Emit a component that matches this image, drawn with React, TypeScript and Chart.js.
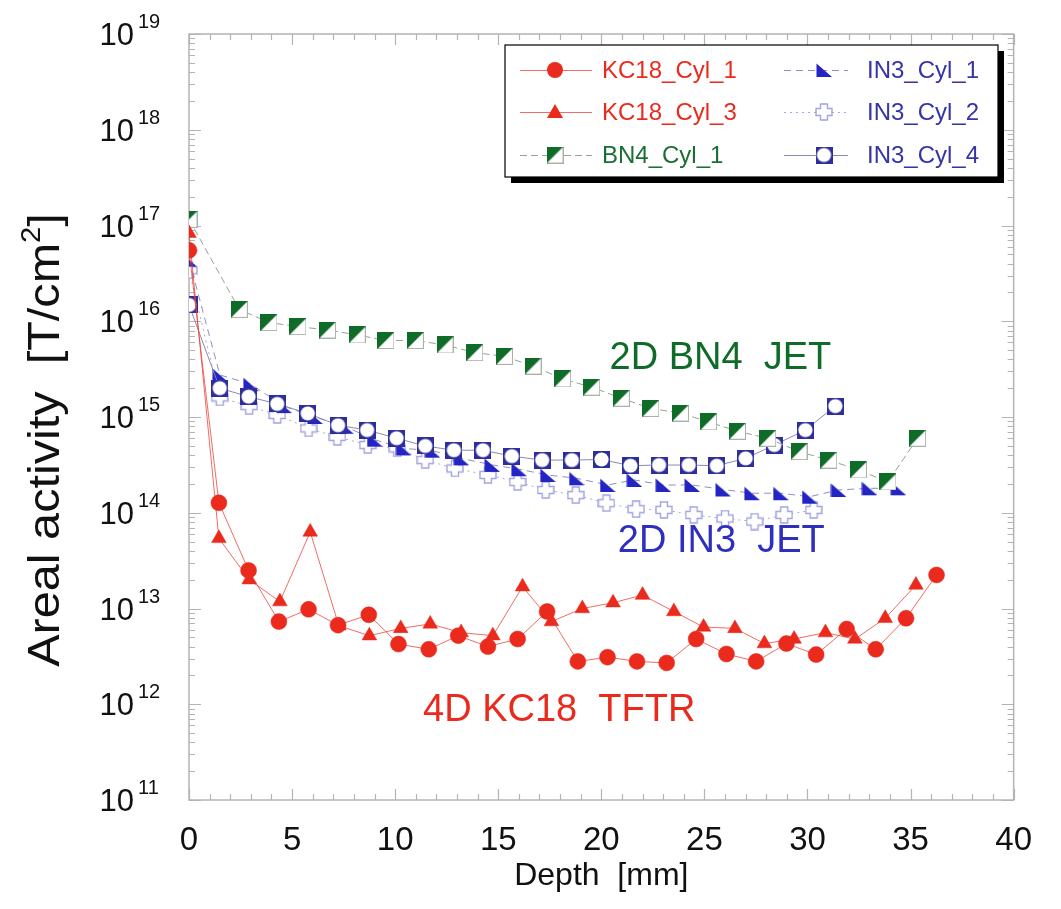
import React, { useEffect, useRef } from 'react';
import { Chart, registerables } from 'chart.js';

Chart.register(...registerables);

// ---------- data (depth in mm, areal activity in T/cm^2) ----------
const kc18Cyl1Depth = [0, 1.45, 2.89, 4.36, 5.8, 7.23, 8.72, 10.16, 11.63, 13.06, 14.5, 15.94, 17.37, 18.86, 20.3, 21.73, 23.17, 24.6, 26.07, 27.51, 28.98, 30.42, 31.9, 33.31, 34.78, 36.26];
const kc18Cyl1Activity = [5.5e16, 1.27e14, 2.5e13, 7.3e12, 9.8e12, 6.7e12, 8.6e12, 4.25e12, 3.75e12, 5.2e12, 4.0e12, 4.8e12, 9.3e12, 2.8e12, 3.1e12, 2.8e12, 2.7e12, 4.8e12, 3.35e12, 2.8e12, 4.3e12, 3.3e12, 6.1e12, 3.75e12, 7.9e12, 2.24e13];

const kc18Cyl3Depth = [0, 1.45, 2.92, 4.41, 5.88, 7.27, 8.75, 10.27, 11.7, 13.2, 14.74, 16.18, 17.58, 19.08, 20.57, 22.0, 23.52, 24.96, 26.48, 27.91, 29.35, 30.87, 32.3, 33.77, 35.26];
const kc18Cyl3Activity = [8.3e16, 5.4e13, 2.0e13, 1.18e13, 6.3e13, 6.6e12, 5.2e12, 6.2e12, 6.9e12, 5.6e12, 5.2e12, 1.69e13, 7.3e12, 1.0e13, 1.15e13, 1.38e13, 9.3e12, 6.4e12, 6.2e12, 4.3e12, 4.8e12, 5.6e12, 4.8e12, 7.9e12, 1.76e13];

const bn4Cyl1Depth = [0, 2.44, 3.88, 5.28, 6.72, 8.16, 9.55, 10.98, 12.42, 13.86, 15.3, 16.69, 18.12, 19.53, 20.97, 22.4, 23.84, 25.2, 26.6, 28.07, 29.59, 31.03, 32.47, 33.9, 35.34];
const bn4Cyl1Activity = [1.16e17, 1.33e16, 9.7e15, 8.8e15, 8.1e15, 7.2e15, 6.3e15, 6.3e15, 5.65e15, 4.7e15, 4.3e15, 3.4e15, 2.5e15, 2.05e15, 1.57e15, 1.23e15, 1.1e15, 8.9e14, 7.1e14, 6.0e14, 4.35e14, 3.55e14, 2.8e14, 2.1e14, 6.0e14];

const in3Cyl1Depth = [0, 1.5, 3.0, 4.6, 6.1, 7.6, 9.0, 10.4, 11.8, 13.2, 14.7, 16.0, 17.4, 18.8, 20.3, 21.6, 23.0, 24.4, 25.9, 27.3, 28.7, 30.1, 31.5, 33.0, 34.4];
const in3Cyl1Activity = [4.4e16, 2.75e15, 2.2e15, 1.3e15, 1.0e15, 7.9e14, 5.8e14, 4.7e14, 4.45e14, 3.7e14, 3.16e14, 2.85e14, 2.48e14, 2.29e14, 1.95e14, 2.2e14, 1.95e14, 1.95e14, 1.75e14, 1.6e14, 1.6e14, 1.47e14, 1.73e14, 1.8e14, 1.8e14];

const in3Cyl2Depth = [0, 1.49, 2.92, 4.28, 5.8, 7.2, 8.67, 10.1, 11.46, 12.9, 14.5, 15.94, 17.3, 18.76, 20.25, 21.69, 23.04, 24.48, 26.0, 27.43, 28.87, 30.3];
const in3Cyl2Activity = [3.4e16, 1.6e15, 1.3e15, 1.05e15, 7.6e14, 6.2e14, 5.1e14, 4.7e14, 3.55e14, 2.9e14, 2.48e14, 2.1e14, 1.73e14, 1.53e14, 1.26e14, 1.09e14, 1.07e14, 9.5e13, 8.7e13, 8.1e13, 9.5e13, 1.07e14];

const in3Cyl4Depth = [0, 1.49, 2.89, 4.28, 5.76, 7.23, 8.64, 10.07, 11.46, 12.85, 14.26, 15.66, 17.13, 18.57, 20.01, 21.41, 22.8, 24.24, 25.6, 27.0, 28.39, 29.9, 31.35];
const in3Cyl4Activity = [1.48e16, 2.0e15, 1.63e15, 1.37e15, 1.09e15, 8.2e14, 7.3e14, 6.0e14, 4.98e14, 4.5e14, 4.5e14, 3.9e14, 3.55e14, 3.55e14, 3.6e14, 3.1e14, 3.15e14, 3.15e14, 3.1e14, 3.7e14, 5.1e14, 7.3e14, 1.3e15];

const seriesNames = ['KC18_Cyl_1', 'KC18_Cyl_3', 'BN4_Cyl_1', 'IN3_Cyl_1', 'IN3_Cyl_2', 'IN3_Cyl_4'];

const xTickValues = [0, 5, 10, 15, 20, 25, 30, 35, 40];
const yDecadeExponents = [11, 12, 13, 14, 15, 16, 17, 18, 19];
const xAxisTitle = 'Depth  [mm]';
const yAxisTitleMain = 'Areal activity  [T/cm';
const yAxisTitleSup = '2';
const yAxisTitleEnd = ']';

const annotationTexts = ['2D BN4  JET', '2D IN3  JET', '4D KC18  TFTR'];
const annotationDepths = [20.4, 20.8, 11.35];
const annotationActivities = [4.1e15, 4.95e13, 8.5e11];

// ---------- styles ----------
const RED = '#ea2a1d';
const GREEN = '#0f6b28';
const BLUE = '#2424c4';
const DARKBLUE = '#2d2d9c';
const LAVENDER = '#a4a4de';
const FONT = '"Liberation Sans", Arial, Helvetica, sans-serif';

function makeMarker(size: number, draw: (ctx: CanvasRenderingContext2D, s: number) => void) {
  const c = document.createElement('canvas');
  c.width = size;
  c.height = size;
  const ctx = c.getContext('2d')!;
  draw(ctx, size);
  return c;
}

function toPoints(xs: number[], ys: number[]) {
  return xs.map((x, i) => ({ x, y: ys[i] }));
}

export default function App() {
  const canvasRef = useRef<HTMLCanvasElement | null>(null);

  useEffect(() => {
    const bn4Marker = makeMarker(17, (ctx, s) => {
      ctx.fillStyle = '#ffffff';
      ctx.fillRect(0, 0, s, s);
      ctx.strokeStyle = '#a9b3a9';
      ctx.lineWidth = 1;
      ctx.strokeRect(0.5, 0.5, s - 1, s - 1);
      ctx.fillStyle = GREEN;
      ctx.beginPath();
      ctx.moveTo(0, 0);
      ctx.lineTo(s, 0);
      ctx.lineTo(0, s);
      ctx.closePath();
      ctx.fill();
    });
    const in3c1Marker = makeMarker(16, (ctx, s) => {
      ctx.fillStyle = BLUE;
      ctx.beginPath();
      ctx.moveTo(0.5, 1.5);
      ctx.lineTo(0.5, s - 1);
      ctx.lineTo(s, s - 1);
      ctx.closePath();
      ctx.fill();
    });
    const in3c2Marker = makeMarker(18, (ctx, s) => {
      const a = 5.5, b = s - 5.5;
      ctx.fillStyle = '#ffffff';
      ctx.strokeStyle = LAVENDER;
      ctx.lineWidth = 1.4;
      ctx.beginPath();
      ctx.moveTo(a, 1);
      ctx.lineTo(b, 1);
      ctx.lineTo(b, a);
      ctx.lineTo(s - 1, a);
      ctx.lineTo(s - 1, b);
      ctx.lineTo(b, b);
      ctx.lineTo(b, s - 1);
      ctx.lineTo(a, s - 1);
      ctx.lineTo(a, b);
      ctx.lineTo(1, b);
      ctx.lineTo(1, a);
      ctx.lineTo(a, a);
      ctx.closePath();
      ctx.fill();
      ctx.stroke();
    });
    const in3c4Marker = makeMarker(17, (ctx, s) => {
      ctx.fillStyle = DARKBLUE;
      ctx.fillRect(0, 0, s, s);
      ctx.fillStyle = '#ffffff';
      ctx.beginPath();
      ctx.arc(s / 2, s / 2, s / 2 - 1.4, 0, Math.PI * 2);
      ctx.fill();
    });

    const datasets: any[] = [
      {
        label: seriesNames[0], data: toPoints(kc18Cyl1Depth, kc18Cyl1Activity),
        borderColor: 'rgba(234,60,50,0.75)', borderWidth: 1, pointStyle: 'circle', pointRadius: 8,
        pointBackgroundColor: RED, pointBorderColor: RED, pointBorderWidth: 0.5, order: 0,
      },
      {
        label: seriesNames[1], data: toPoints(kc18Cyl3Depth, kc18Cyl3Activity),
        borderColor: 'rgba(234,60,50,0.75)', borderWidth: 1, pointStyle: 'triangle', pointRadius: 8.5,
        pointBackgroundColor: RED, pointBorderColor: RED, pointBorderWidth: 0.5, order: 1,
      },
      {
        label: seriesNames[2], data: toPoints(bn4Cyl1Depth, bn4Cyl1Activity),
        borderColor: '#97a197', borderWidth: 1, borderDash: [7, 4], pointStyle: bn4Marker, pointRadius: 8, order: 2,
      },
      {
        label: seriesNames[3], data: toPoints(in3Cyl1Depth, in3Cyl1Activity),
        borderColor: '#8f8fbf', borderWidth: 1, borderDash: [7, 5], pointStyle: in3c1Marker, pointRadius: 8, order: 4,
      },
      {
        label: seriesNames[4], data: toPoints(in3Cyl2Depth, in3Cyl2Activity),
        borderColor: '#a9a9d4', borderWidth: 1, borderDash: [2, 4], pointStyle: in3c2Marker, pointRadius: 8, order: 5,
      },
      {
        label: seriesNames[5], data: toPoints(in3Cyl4Depth, in3Cyl4Activity),
        borderColor: '#8a8ab4', borderWidth: 1, pointStyle: in3c4Marker, pointRadius: 8, order: 3,
      },
    ];
    datasets.forEach((d) => { d.tension = 0; d.fill = false; d.pointHoverRadius = d.pointRadius; });

    const legendMarkers = [null, null, bn4Marker, in3c1Marker, in3c2Marker, in3c4Marker];

    const decorPlugin = {
      id: 'decor',
      beforeDatasetsDraw(chart: any) {
        const { ctx, chartArea: a, scales } = chart;
        const x = scales.x, y = scales.y;
        ctx.save();
        ctx.strokeStyle = '#b4b4b4';
        ctx.lineWidth = 1.5;
        ctx.strokeRect(a.left, a.top, a.right - a.left, a.bottom - a.top);
        ctx.lineWidth = 1.2;
        ctx.beginPath();
        for (let d = 0; d <= 40; d++) {
          const px = Math.round(x.getPixelForValue(d)) + 0.5;
          const len = d % 5 === 0 ? 11 : 6;
          ctx.moveTo(px, a.bottom); ctx.lineTo(px, a.bottom - len);
          ctx.moveTo(px, a.top); ctx.lineTo(px, a.top + len);
        }
        for (const e of yDecadeExponents) {
          for (let m = 1; m <= 9; m++) {
            if (e === 19 && m > 1) break;
            const py = Math.round(y.getPixelForValue(m * Math.pow(10, e))) + 0.5;
            const len = m === 1 ? 12 : 6;
            ctx.moveTo(a.left, py); ctx.lineTo(a.left + len, py);
            ctx.moveTo(a.right, py); ctx.lineTo(a.right - len, py);
          }
        }
        ctx.stroke();
        ctx.restore();
      },
      afterDraw(chart: any) {
        const { ctx, chartArea: a, scales } = chart;
        const x = scales.x, y = scales.y;
        ctx.save();
        // y tick labels 10^n
        ctx.fillStyle = '#111111';
        for (const e of yDecadeExponents) {
          const py = y.getPixelForValue(Math.pow(10, e));
          ctx.font = `31px ${FONT}`;
          ctx.textAlign = 'right';
          ctx.textBaseline = 'alphabetic';
          ctx.fillText('10', a.left - 55, py + 11);
          ctx.font = `20px ${FONT}`;
          ctx.textAlign = 'left';
          ctx.fillText(String(e), a.left - 51, py - 6);
        }
        // x axis title
        ctx.font = `32px ${FONT}`;
        ctx.textAlign = 'center';
        ctx.textBaseline = 'middle';
        ctx.fillText(xAxisTitle, (a.left + a.right) / 2, 868);
        // y axis title (rotated)
        ctx.save();
        ctx.translate(36, 432);
        ctx.rotate(-Math.PI / 2);
        ctx.scale(1.08, 1);
        const mainFont = `45px ${FONT}`;
        const supFont = `27px ${FONT}`;
        ctx.font = mainFont;
        const w1 = ctx.measureText(yAxisTitleMain).width;
        const w3 = ctx.measureText(yAxisTitleEnd).width;
        ctx.font = supFont;
        const w2 = ctx.measureText(yAxisTitleSup).width;
        const total = w1 + w2 + w3;
        let cx = -total / 2;
        ctx.textAlign = 'left';
        ctx.textBaseline = 'alphabetic';
        ctx.font = mainFont;
        ctx.fillText(yAxisTitleMain, cx, 15);
        cx += w1;
        ctx.font = supFont;
        ctx.fillText(yAxisTitleSup, cx, -4);
        cx += w2;
        ctx.font = mainFont;
        ctx.fillText(yAxisTitleEnd, cx, 15);
        ctx.restore();

        // annotations
        const annColors = [GREEN, '#2e2ebf', RED];
        ctx.font = `38px ${FONT}`;
        ctx.textAlign = 'left';
        ctx.textBaseline = 'middle';
        annotationTexts.forEach((t, i) => {
          ctx.fillStyle = annColors[i];
          ctx.fillText(t, x.getPixelForValue(annotationDepths[i]), y.getPixelForValue(annotationActivities[i]));
        });

        // legend
        const bx = 497, by = 37, bw = 493, bh = 132, sh = 6;
        ctx.fillStyle = '#000000';
        ctx.fillRect(bx + sh, by + sh, bw, bh);
        ctx.fillStyle = '#ffffff';
        ctx.fillRect(bx, by, bw, bh);
        ctx.strokeStyle = '#000000';
        ctx.lineWidth = 1.2;
        ctx.strokeRect(bx, by, bw, bh);
        const rowsY = [62, 104, 147];
        const cols = [
          { l0: 512, l1: 584, mx: 547, tx: 594 },
          { l0: 776, l1: 840, mx: 816, tx: 859 },
        ];
        const textColors = [RED, RED, '#1d6e35', '#3535a8', '#3535a8', '#3535a8'];
        ctx.font = `24px ${FONT}`;
        ctx.textBaseline = 'middle';
        ctx.textAlign = 'left';
        datasets.forEach((ds, i) => {
          const col = cols[i < 3 ? 0 : 1];
          const ry = rowsY[i % 3];
          ctx.save();
          ctx.strokeStyle = ds.borderColor;
          ctx.lineWidth = 1;
          ctx.setLineDash(ds.borderDash || []);
          ctx.beginPath();
          ctx.moveTo(col.l0, ry + 0.5);
          ctx.lineTo(col.l1, ry + 0.5);
          ctx.stroke();
          ctx.restore();
          const mk = legendMarkers[i];
          if (mk) {
            ctx.drawImage(mk, col.mx - mk.width / 2, ry - mk.height / 2);
          } else if (i === 0) {
            ctx.fillStyle = RED;
            ctx.beginPath();
            ctx.arc(col.mx, ry, 8, 0, Math.PI * 2);
            ctx.fill();
          } else {
            ctx.fillStyle = RED;
            ctx.beginPath();
            ctx.moveTo(col.mx, ry - 8);
            ctx.lineTo(col.mx + 8, ry + 6);
            ctx.lineTo(col.mx - 8, ry + 6);
            ctx.closePath();
            ctx.fill();
          }
          ctx.fillStyle = textColors[i];
          ctx.fillText(seriesNames[i], col.tx, ry + 1);
        });
        ctx.restore();
      },
    };

    const chart = new Chart(canvasRef.current!, {
      type: 'line',
      data: { datasets },
      options: {
        animation: false,
        responsive: true,
        maintainAspectRatio: false,
        layout: { padding: { left: 181, right: 29, top: 26, bottom: 0 } },
        plugins: { legend: { display: false }, tooltip: { enabled: false } },
        scales: {
          x: {
            type: 'linear',
            min: 0,
            max: 40,
            afterFit: (s: any) => { s.height = 101; },
            afterBuildTicks: (s: any) => { s.ticks = xTickValues.map((v) => ({ value: v })); },
            grid: { display: false, drawTicks: false },
            border: { display: false },
            ticks: {
              font: { family: FONT, size: 33 },
              color: '#111111',
              padding: 21,
              maxRotation: 0,
              autoSkip: false,
            },
          },
          y: {
            type: 'logarithmic',
            min: 1e11,
            max: 1e19,
            display: false,
          },
        },
      } as any,
      plugins: [decorPlugin],
    });
    return () => chart.destroy();
  }, []);

  return (
    <div style={{ width: 1045, height: 893, position: 'relative' }}>
      <canvas ref={canvasRef} />
    </div>
  );
}
